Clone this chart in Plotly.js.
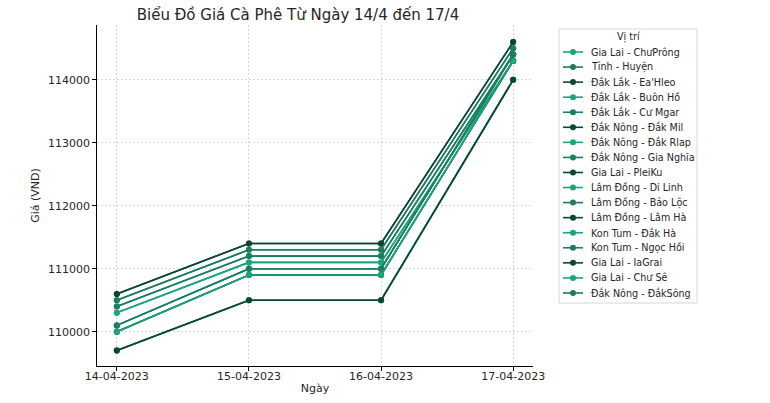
<!DOCTYPE html>
<html>
<head>
<meta charset="utf-8">
<script src="https://cdn.plot.ly/plotly-3.0.1.min.js"></script>
<style>html,body{margin:0;padding:0;background:#fff;}#chart{width:770px;height:403px;}</style>
</head>
<body>
<div id="chart"></div>
<script>
const dates = ["14-04-2023", "15-04-2023", "16-04-2023", "17-04-2023"];
const locations = [
  "Gia Lai - ChưPrông", "Tỉnh - Huyện", "Đắk Lắk - Ea'Hleo", "Đắk Lắk - Buôn Hồ",
  "Đắk Lắk - Cư Mgar", "Đắk Nông - Đắk Mil", "Đắk Nông - Đắk Rlap", "Đắk Nông - Gia Nghĩa",
  "Gia Lai - PleiKu", "Lâm Đồng - Di Linh", "Lâm Đồng - Bảo Lộc", "Lâm Đồng - Lâm Hà",
  "Kon Tum - Đắk Hà", "Kon Tum - Ngọc Hồi", "Gia Lai - IaGrai", "Gia Lai - Chư Sê",
  "Đắk Nông - ĐắkSông"
];
const prices = [
  [110000, 110900, 110900, 114300],
  [110500, 111300, 111300, 114500],
  [110600, 111400, 111400, 114600],
  [110300, 111100, 111100, 114300],
  [110400, 111200, 111200, 114400],
  [110600, 111400, 111400, 114600],
  [110300, 111100, 111100, 114300],
  [110400, 111200, 111200, 114400],
  [110100, 111000, 111000, 114400],
  [109700, 110500, 110500, 114000],
  [109700, 110500, 110500, 114000],
  [109700, 110500, 110500, 114000],
  [110100, 111000, 111000, 114400],
  [110100, 111000, 111000, 114400],
  [110000, 110900, 110900, 114300],
  [110000, 110900, 110900, 114300],
  [110500, 111300, 111300, 114500]
];
const yTicks = [110000, 111000, 112000, 113000, 114000];
const palette = ["#1aa67c", "#1c7d63", "#0c4632"];

const traces = locations.map((name, i) => ({
  type: "scatter",
  mode: "lines+markers",
  name: name,
  x: dates,
  y: prices[i],
  line: {color: palette[i % 3], width: 1.6},
  marker: {color: palette[i % 3], size: 6},
  showlegend: false
}));

// legend drawn in paper space (plot area: x 97..533 px, y 25..366 px)
const PL = 97, PW = 436, PB = 366, PH = 341;
const px = v => (v - PL) / PW;
const py = v => (PB - v) / PH;

const shapes = [{
  type: "rect", xref: "paper", yref: "paper",
  x0: px(559), x1: px(697), y0: py(303), y1: py(29),
  line: {color: "#d6d6d6", width: 1}, fillcolor: "rgba(255,255,255,0.9)"
}];
const annotations = [{
  xref: "paper", yref: "paper", x: px(628), y: py(37.5), xanchor: "center", yanchor: "middle",
  text: "Vị trí", showarrow: false, font: {family: "DejaVu Sans", size: 9.6, color: "#262626"}
}];
locations.forEach((name, i) => {
  const yy = 52 + 15.06 * i;
  const c = palette[i % 3];
  shapes.push({type: "line", xref: "paper", yref: "paper", x0: px(563), x1: px(583), y0: py(yy), y1: py(yy),
               line: {color: c, width: 1.6}});
  shapes.push({type: "circle", xref: "paper", yref: "paper", x0: px(570), x1: px(576), y0: py(yy + 3), y1: py(yy - 3),
               line: {color: c, width: 0}, fillcolor: c});
  annotations.push({xref: "paper", yref: "paper", x: px(589), y: py(yy), xanchor: "left", yanchor: "middle",
                    text: name, showarrow: false, font: {family: "DejaVu Sans", size: 9.6, color: "#262626"}});
});

const layout = {
  width: 770, height: 403,
  margin: {l: PL, r: 770 - PL - PW, t: 25, b: 403 - PB},
  paper_bgcolor: "#fff", plot_bgcolor: "#fff",
  font: {family: "DejaVu Sans", size: 11, color: "#262626"},
  title: {text: "Biểu Đồ Giá Cà Phê Từ Ngày 14/4 đến 17/4", font: {family: "DejaVu Sans", size: 15, color: "#262626"},
          x: 0.387, xanchor: "center", y: 0.976, yanchor: "top"},
  xaxis: {
    type: "category", range: [-0.15, 3.15],
    showline: true, linecolor: "#000", linewidth: 1.2, mirror: false,
    ticks: "outside", ticklen: 3.5, tickcolor: "#000",
    showgrid: true, gridcolor: "#cccccc", griddash: "2px,2px", gridwidth: 0.8,
    zeroline: false, ticklabelstandoff: -4,
    title: {text: "Ngày", font: {size: 11}, standoff: 2},
    tickfont: {size: 11}
  },
  yaxis: {
    range: [109455, 114870],
    tickvals: yTicks,
    ticktext: yTicks.map(String),
    showline: true, linecolor: "#000", linewidth: 1.2,
    ticks: "outside", ticklen: 3.5, tickcolor: "#000",
    showgrid: true, gridcolor: "#cccccc", griddash: "2px,2px", gridwidth: 0.8,
    zeroline: false,
    title: {text: "Giá (VND)", font: {size: 11}, standoff: 6},
    tickfont: {size: 11}
  },
  shapes: shapes,
  annotations: annotations,
  showlegend: false
};

Plotly.newPlot("chart", traces, layout, {displayModeBar: false, staticPlot: true});
</script>
</body>
</html>
